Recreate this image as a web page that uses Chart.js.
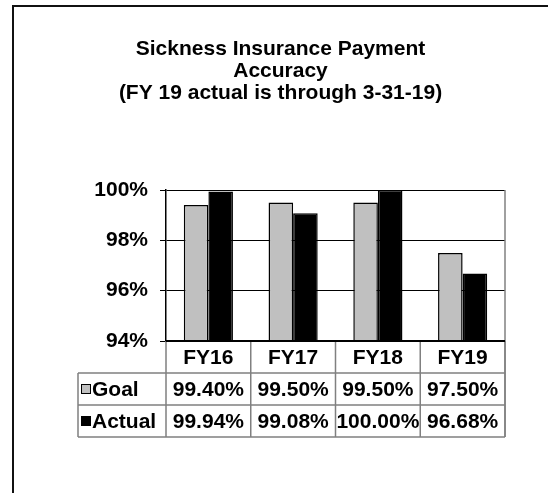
<!DOCTYPE html>
<html>
<head>
<meta charset="utf-8">
<script src="https://cdn.jsdelivr.net/npm/chart.js@4"></script>
<style>
  html, body { margin: 0; padding: 0; background: #fff; }
  #wrap { width: 548px; height: 493px; position: relative; }
</style>
</head>
<body>
<div id="wrap"><canvas id="myChart" width="548" height="493"></canvas></div>
<script>
// data
const categories = ['FY16', 'FY17', 'FY18', 'FY19'];
const goalValues = [99.40, 99.50, 99.50, 97.50];
const actualValues = [99.94, 99.08, 100.00, 96.68];
const yTicks = [94, 96, 98, 100];
const seriesNames = ['Goal', 'Actual'];
const seriesColors = ['#c0c0c0', '#000000'];

const FONT = '"Liberation Sans", Arial, sans-serif';

// frame + data table under the plot
const tablePlugin = {
  id: 'dataTable',
  afterDraw(chart) {
    const ctx = chart.ctx;
    const area = chart.chartArea;
    const x = chart.scales.x;
    const colW = x.width / categories.length;
    const rowH = 32;
    const top = area.bottom;
    const tableLeft = 78;
    ctx.save();

    // outer frame (only top + left visible)
    ctx.strokeStyle = '#111';
    ctx.lineWidth = 2;
    ctx.beginPath();
    ctx.moveTo(12, 6); ctx.lineTo(548, 6);
    ctx.moveTo(13, 6); ctx.lineTo(13, 493);
    ctx.stroke();

    // right edge of plot
    ctx.strokeStyle = '#808080';
    ctx.lineWidth = 1.5;
    ctx.beginPath();
    ctx.moveTo(area.right, area.top);
    ctx.lineTo(area.right, top + rowH * 3);
    ctx.stroke();

    // table grid
    ctx.beginPath();
    for (let r = 1; r <= 3; r++) {
      ctx.moveTo(tableLeft, top + rowH * r);
      ctx.lineTo(area.right, top + rowH * r);
    }
    ctx.moveTo(tableLeft, top + rowH);
    ctx.lineTo(tableLeft, top + rowH * 3);
    for (let i = 0; i <= categories.length; i++) {
      const cx = area.left + colW * i;
      ctx.moveTo(cx, top);
      ctx.lineTo(cx, top + rowH * 3);
    }
    ctx.stroke();

    // bottom axis line
    ctx.strokeStyle = '#000';
    ctx.lineWidth = 2;
    ctx.beginPath();
    ctx.moveTo(area.left, top);
    ctx.lineTo(area.right, top);
    ctx.stroke();

    ctx.fillStyle = '#000';
    ctx.font = 'bold 21px ' + FONT;
    ctx.textBaseline = 'middle';
    ctx.textAlign = 'center';
    categories.forEach((c, i) => {
      const cx = x.getPixelForValue(i);
      ctx.fillText(c, cx, top + rowH * 0.5 + 1);
      ctx.fillText(goalValues[i].toFixed(2) + '%', cx, top + rowH * 1.5 + 1);
      ctx.fillText(actualValues[i].toFixed(2) + '%', cx, top + rowH * 2.5 + 1);
    });

    // row headers with legend keys
    ctx.textAlign = 'left';
    seriesNames.forEach((name, j) => {
      const cy = top + rowH * (1.5 + j);
      ctx.fillStyle = seriesColors[j];
      ctx.fillRect(81.5, cy - 4.5, 9, 9);
      ctx.strokeStyle = '#000';
      ctx.lineWidth = 1;
      ctx.strokeRect(81.5, cy - 4.5, 9, 9);
      ctx.fillStyle = '#000';
      ctx.fillText(name, 92, cy + 1);
    });
    ctx.restore();
  }
};

const ctx = document.getElementById('myChart');

new Chart(ctx, {
  type: 'bar',
  data: {
    labels: categories,
    datasets: [{
      label: seriesNames[0],
      data: goalValues,
      backgroundColor: seriesColors[0],
      borderColor: '#000',
      borderWidth: 1.5
    }, {
      label: seriesNames[1],
      data: actualValues,
      backgroundColor: seriesColors[1],
      borderColor: '#000',
      borderWidth: 1.5
    }]
  },
  options: {
    responsive: false,
    animation: false,
    layout: { padding: { left: 13, right: 0, top: 0, bottom: 56 } },
    datasets: { bar: { barPercentage: 1, categoryPercentage: 0.58 } },
    plugins: {
      legend: { display: false },
      tooltip: { enabled: false },
      title: {
        display: true,
        text: ['Sickness Insurance Payment', 'Accuracy', '(FY 19 actual is through 3-31-19)'],
        color: '#000',
        font: { family: FONT, size: 21, weight: 'bold', lineHeight: 1.07 },
        padding: { top: 37.5, bottom: 85.1 }
      }
    },
    scales: {
      x: {
        ticks: { display: false },
        grid: { display: false },
        border: { display: false },
        afterFit: s => { s.height = 96; }
      },
      y: {
        min: yTicks[0],
        max: yTicks[yTicks.length - 1],
        afterBuildTicks: s => { s.ticks = yTicks.map(v => ({ value: v })); },
        ticks: {
          color: '#000',
          padding: 12,
          font: { family: FONT, size: 21, weight: 'bold' },
          callback: v => v + '%'
        },
        grid: { color: '#000', lineWidth: 1, tickLength: 6, tickColor: '#000' },
        border: { color: '#000', width: 1.5 },
        afterFit: s => { s.width = 153; }
      },
      yRight: {
        position: 'right',
        ticks: { display: false },
        grid: { display: false },
        border: { display: false },
        afterFit: s => { s.width = 43; }
      }
    }
  },
  plugins: [tablePlugin]
});
</script>
</body>
</html>
